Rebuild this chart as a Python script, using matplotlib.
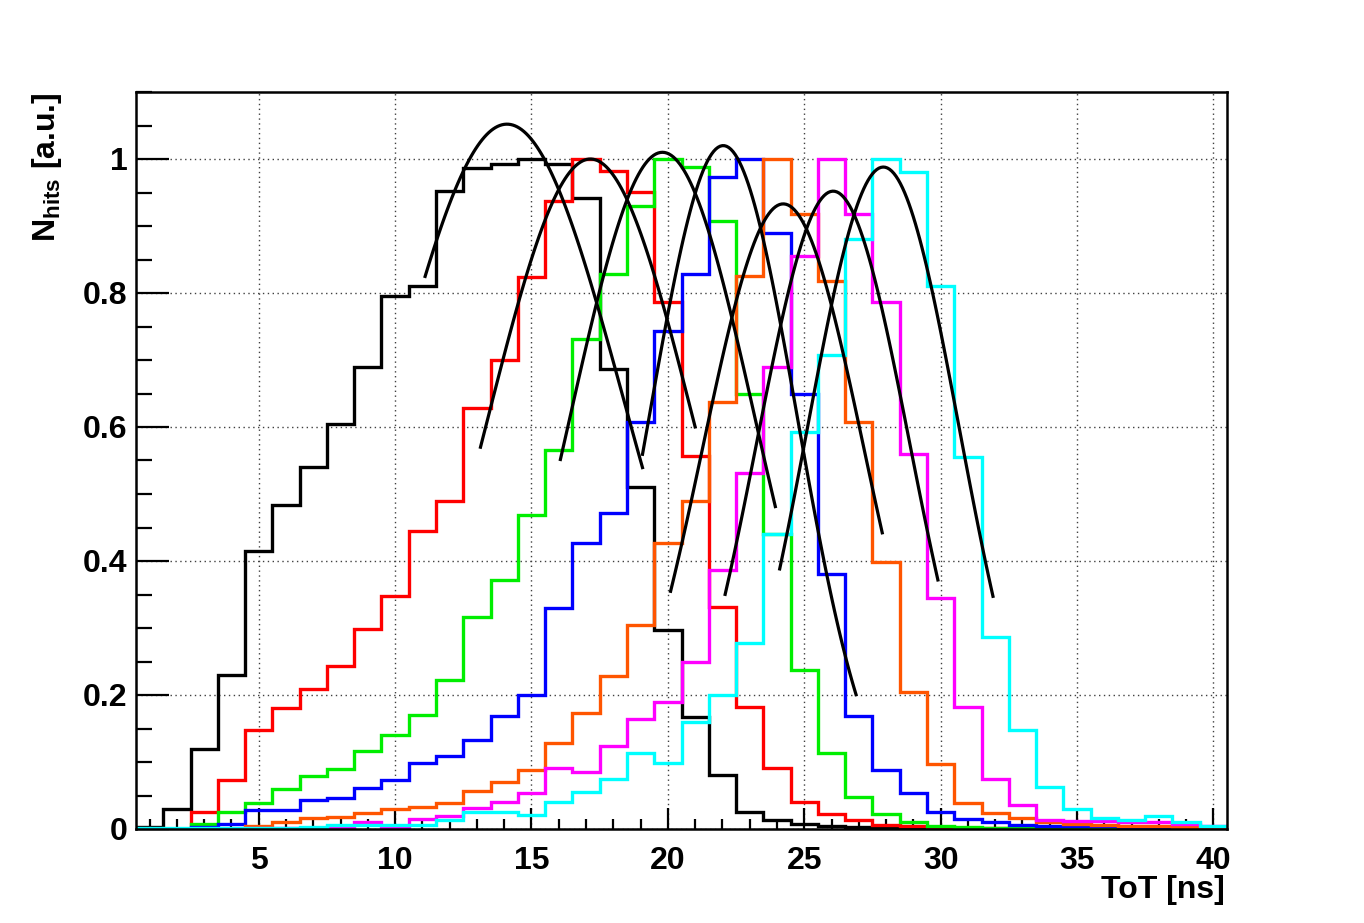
import numpy as np
import matplotlib
matplotlib.use("Agg")
import matplotlib.pyplot as plt
from matplotlib.ticker import MultipleLocator

plt.rcParams['font.family'] = ['Liberation Sans', 'DejaVu Sans']
plt.rcParams['font.weight'] = 'bold'
plt.rcParams['mathtext.fontset'] = 'custom'
plt.rcParams['mathtext.rm'] = 'Liberation Sans:bold'
plt.rcParams['mathtext.bf'] = 'Liberation Sans:bold'

# ToT bins 1..40 ns, one ns wide
bin_edges = np.arange(0.5, 41.5, 1.0)

h_black = [0.003, 0.03, 0.12, 0.23, 0.415, 0.483, 0.54, 0.604, 0.69, 0.795,
           0.81, 0.952, 0.987, 0.992, 1.0, 0.992, 0.942, 0.686, 0.511, 0.297,
           0.167, 0.08, 0.025, 0.013, 0.008, 0.005, 0.003, 0.002, 0.001, 0.0,
           0.0, 0.0, 0.0, 0.0, 0.0, 0.0, 0.0, 0.0, 0.0, 0.0]
h_red = [0.0, 0.0, 0.025, 0.073, 0.148, 0.181, 0.209, 0.244, 0.299, 0.348,
         0.445, 0.49, 0.629, 0.70, 0.824, 0.937, 1.0, 0.982, 0.951, 0.786,
         0.556, 0.332, 0.182, 0.091, 0.04, 0.022, 0.013, 0.006, 0.004, 0.003,
         0.002, 0.001, 0.0, 0.0, 0.0, 0.0, 0.0, 0.0, 0.0, 0.0]
h_green = [0.0, 0.0, 0.007, 0.025, 0.039, 0.06, 0.079, 0.09, 0.117, 0.14,
           0.17, 0.223, 0.317, 0.372, 0.469, 0.565, 0.731, 0.828, 0.93, 1.0,
           0.988, 0.907, 0.649, 0.44, 0.237, 0.113, 0.048, 0.022, 0.01, 0.005,
           0.003, 0.002, 0.001, 0.0, 0.0, 0.0, 0.0, 0.0, 0.0, 0.0]
h_blue = [0.0, 0.0, 0.003, 0.007, 0.028, 0.028, 0.043, 0.046, 0.061, 0.073,
          0.098, 0.109, 0.133, 0.168, 0.2, 0.33, 0.427, 0.471, 0.607, 0.743,
          0.828, 0.973, 1.0, 0.89, 0.649, 0.381, 0.168, 0.088, 0.054, 0.026,
          0.015, 0.01, 0.006, 0.005, 0.004, 0.004, 0.003, 0.002, 0.001, 0.0]
h_orange = [0.0, 0.0, 0.0, 0.0, 0.004, 0.01, 0.016, 0.018, 0.024, 0.03,
            0.033, 0.039, 0.056, 0.07, 0.088, 0.129, 0.173, 0.229, 0.305, 0.427,
            0.49, 0.638, 0.825, 1.0, 0.918, 0.818, 0.607, 0.399, 0.205, 0.097,
            0.039, 0.024, 0.016, 0.01, 0.008, 0.006, 0.005, 0.004, 0.003, 0.003]
h_magenta = [0.0, 0.0, 0.0, 0.0, 0.001, 0.002, 0.002, 0.003, 0.01, 0.003,
             0.015, 0.019, 0.031, 0.04, 0.053, 0.091, 0.085, 0.124, 0.164, 0.19,
             0.25, 0.386, 0.532, 0.689, 0.855, 1.0, 0.918, 0.786, 0.559, 0.345,
             0.182, 0.075, 0.036, 0.013, 0.012, 0.012, 0.011, 0.01, 0.007, 0.005]
h_cyan = [0.002, 0.002, 0.002, 0.002, 0.002, 0.002, 0.003, 0.006, 0.006, 0.006,
          0.006, 0.013, 0.025, 0.025, 0.021, 0.04, 0.055, 0.074, 0.114, 0.098,
          0.16, 0.2, 0.278, 0.44, 0.593, 0.708, 0.88, 1.0, 0.98, 0.81,
          0.555, 0.287, 0.148, 0.063, 0.03, 0.016, 0.013, 0.02, 0.011, 0.005]

hists = [h_black, h_red, h_green, h_blue, h_orange, h_magenta, h_cyan]
hist_colors = ['#000000', '#ff0000', '#00ee00', '#0000ff', '#ff5500', '#ff00ff', '#00ffff']

# gaussian fits drawn on top (amplitude, mean, sigma, fit range)
fit_amp = [1.052, 1.0, 1.01, 1.02, 0.933, 0.952, 0.988]
fit_mean = [14.1, 17.16, 19.8, 22.03, 24.23, 26.06, 27.9]
fit_sigma = [4.3, 3.8, 3.4, 2.7, 2.97, 2.8, 2.78]
fit_lo = [11.1, 13.13, 16.06, 19.07, 20.1, 22.1, 24.1]
fit_hi = [19.07, 21.0, 23.94, 26.9, 27.86, 29.9, 31.92]

xticks = [5, 10, 15, 20, 25, 30, 35, 40]
yticks = [0, 0.2, 0.4, 0.6, 0.8, 1.0]
ytick_labels = ['0', '0.2', '0.4', '0.6', '0.8', '1']

W, H = 1364, 923
fig = plt.figure(figsize=(W / 100, H / 100), dpi=100)
ax = fig.add_axes([136 / W, 1 - 829 / H, (1227 - 136) / W, (829 - 92) / H])

for vals, col in zip(hists, hist_colors):
    ax.stairs(vals, bin_edges, baseline=None, color=col, lw=2.4)

for a, m, s, lo, hi in zip(fit_amp, fit_mean, fit_sigma, fit_lo, fit_hi):
    xs = np.linspace(lo, hi, 100)
    ax.plot(xs, a * np.exp(-0.5 * ((xs - m) / s) ** 2), color='black', lw=2.3)

ax.set_xlim(0.5, 40.5)
ax.set_ylim(0, 1.1)
ax.set_xticks(xticks)
ax.set_xticklabels([str(t) for t in xticks])
ax.set_yticks(yticks)
ax.set_yticklabels(ytick_labels)
ax.xaxis.set_minor_locator(MultipleLocator(1))
ax.yaxis.set_minor_locator(MultipleLocator(0.05))

ax.tick_params(which='both', direction='in', labelsize=23, width=1.6)
ax.tick_params(axis='x', which='major', length=15, pad=12)
ax.tick_params(axis='x', which='minor', length=7)
ax.tick_params(axis='y', which='major', length=24, pad=6)
ax.tick_params(axis='y', which='minor', length=11.5)
for lab in ax.get_xticklabels() + ax.get_yticklabels():
    lab.set_fontweight('bold')

ax.grid(True, which='major', color='0.25', lw=1.0, linestyle=(0, (1, 2.5)))
ax.set_axisbelow(True)
for sp in ax.spines.values():
    sp.set_linewidth(1.8)

fig.text(1225 / W, 1 - 890 / H, 'ToT [ns]', ha='right', va='center',
         fontsize=23, fontweight='bold')
fig.text(47 / W, 1 - 92 / H, r'N$_{\rm hits}$ [a.u.]', rotation=90,
         ha='center', va='top', fontsize=23, fontweight='bold')

fig.savefig('out.png', dpi=100, facecolor='white')
